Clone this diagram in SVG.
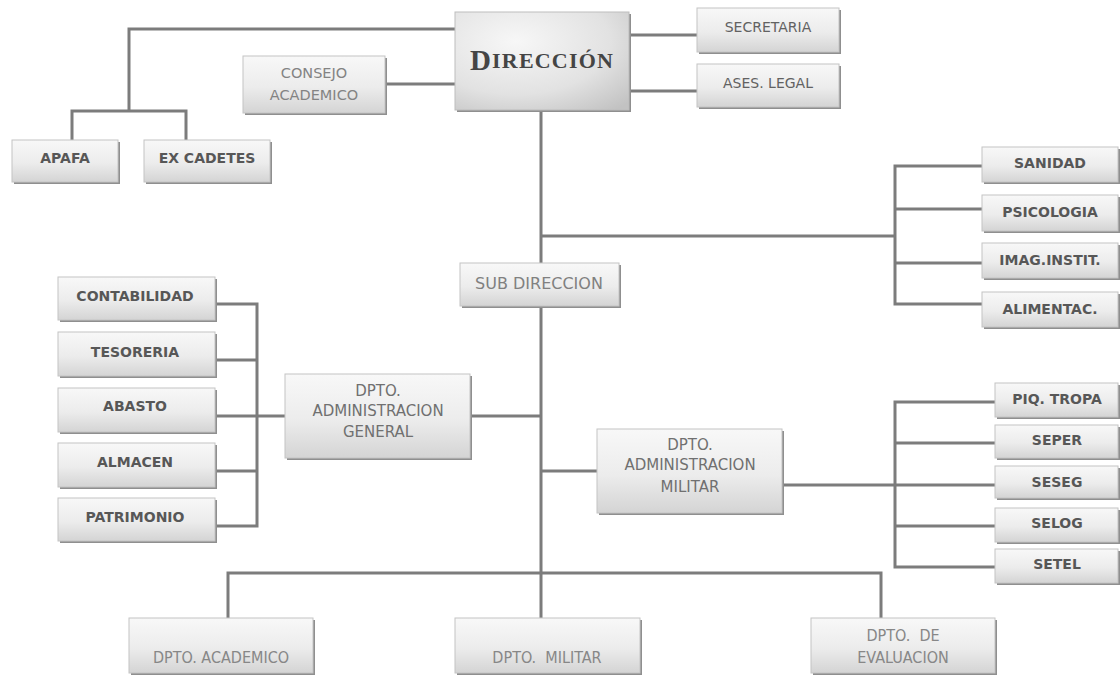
<svg xmlns="http://www.w3.org/2000/svg" width="1120" height="675" viewBox="0 0 1120 675">
<defs>
<linearGradient id="gb" x1="0" y1="0" x2="0" y2="1">
<stop offset="0" stop-color="#f8f8f8"/><stop offset="0.55" stop-color="#ececec"/><stop offset="1" stop-color="#d4d4d4"/>
</linearGradient>
<radialGradient id="gd" cx="0.35" cy="0.3" r="0.9">
<stop offset="0" stop-color="#f7f7f7"/><stop offset="0.6" stop-color="#e2e2e2"/><stop offset="1" stop-color="#c2c2c2"/>
</radialGradient>
<style>
.sh{fill:#8f8f8f}
.bx{fill:url(#gb);stroke:#c4c4c4;stroke-width:1}
.bd{fill:url(#gd);stroke:#bdbdbd;stroke-width:1}
.c{fill:none;stroke:#7c7c7c;stroke-width:3}
text{text-anchor:middle;dominant-baseline:central;font-family:"DejaVu Sans","Liberation Sans",sans-serif}
.b{font-weight:bold;font-size:14px;fill:#575757}
.r{font-size:14px;fill:#626262}
.l{font-size:14.5px;fill:#838383}
.m{font-size:15px;fill:#707070}
.s{font-size:16px;fill:#808080}
.k{font-family:"DejaVu Sans Condensed","DejaVu Sans",sans-serif;font-stretch:condensed;font-size:16px;fill:#878787}
.t{font-family:"Liberation Serif","DejaVu Serif",serif;font-weight:bold;fill:#454545}
</style>
</defs>
<g id="connectors">
<path class="c" d="M455 29H129V111M72 140V111H186V140"/>
<path class="c" d="M385 84H455"/>
<path class="c" d="M629 35H697M629 91H697"/>
<path class="c" d="M541 110V573"/>
<path class="c" d="M541 236H895M982 166H895V304H982M895 209H982M895 263H982"/>
<path class="c" d="M541 416H470M285 416H257M215 304H257V526H215M215 360H257M215 416H257M215 471H257"/>
<path class="c" d="M541 471H597M782 485H895M995 402H895V567H995M895 443H995M895 485H995M895 526H995"/>
<path class="c" d="M228 618V573H881V618M541 573V618"/>
</g>
<g id="direccion"><rect class="sh" x="457" y="14" width="174" height="98"/><rect class="bd" x="455" y="12" width="174" height="98"/>
<text class="t" x="542" y="60" letter-spacing="1.2"><tspan font-size="29">D</tspan><tspan font-size="22">IRECCIÓN</tspan></text></g>
<g id="consejo"><rect class="sh" x="245" y="58" width="142" height="57"/><rect class="bx" x="243" y="56" width="142" height="57"/>
<text class="l" x="314" y="73">CONSEJO</text><text class="l" x="314" y="95">ACADEMICO</text></g>
<g id="secretaria"><rect class="sh" x="699" y="10" width="142" height="44"/><rect class="bx" x="697" y="8" width="142" height="44"/><text class="r" x="768" y="27">SECRETARIA</text></g>
<g id="ases"><rect class="sh" x="699" y="66" width="142" height="43"/><rect class="bx" x="697" y="64" width="142" height="43"/><text class="r" x="768" y="83">ASES. LEGAL</text></g>
<g id="apafa"><rect class="sh" x="14" y="142" width="106" height="42"/><rect class="bx" x="12" y="140" width="106" height="42"/><text class="b" x="65" y="158">APAFA</text></g>
<g id="excadetes"><rect class="sh" x="146" y="142" width="126" height="42"/><rect class="bx" x="144" y="140" width="126" height="42"/><text class="b" x="207" y="158">EX CADETES</text></g>
<g id="sanidad"><rect class="sh" x="984" y="149" width="136" height="35"/><rect class="bx" x="982" y="147" width="136" height="35"/><text class="b" x="1050" y="163">SANIDAD</text></g>
<g id="psicologia"><rect class="sh" x="984" y="197" width="136" height="36"/><rect class="bx" x="982" y="195" width="136" height="36"/><text class="b" x="1050" y="212">PSICOLOGIA</text></g>
<g id="imag"><rect class="sh" x="984" y="245" width="136" height="35"/><rect class="bx" x="982" y="243" width="136" height="35"/><text class="b" x="1050" y="260">IMAG.INSTIT.</text></g>
<g id="alimentac"><rect class="sh" x="984" y="294" width="136" height="35"/><rect class="bx" x="982" y="292" width="136" height="35"/><text class="b" x="1050" y="309">ALIMENTAC.</text></g>
<g id="subdireccion"><rect class="sh" x="462" y="265" width="159" height="43"/><rect class="bx" x="460" y="263" width="159" height="43"/><text class="s" x="539" y="283">SUB DIRECCION</text></g>
<g id="contabilidad"><rect class="sh" x="60" y="279" width="157" height="43"/><rect class="bx" x="58" y="277" width="157" height="43"/><text class="b" x="135" y="296">CONTABILIDAD</text></g>
<g id="tesoreria"><rect class="sh" x="60" y="334" width="157" height="44"/><rect class="bx" x="58" y="332" width="157" height="44"/><text class="b" x="135" y="352">TESORERIA</text></g>
<g id="abasto"><rect class="sh" x="60" y="390" width="157" height="44"/><rect class="bx" x="58" y="388" width="157" height="44"/><text class="b" x="135" y="406">ABASTO</text></g>
<g id="almacen"><rect class="sh" x="60" y="445" width="157" height="44"/><rect class="bx" x="58" y="443" width="157" height="44"/><text class="b" x="135" y="462">ALMACEN</text></g>
<g id="patrimonio"><rect class="sh" x="60" y="500" width="157" height="43"/><rect class="bx" x="58" y="498" width="157" height="43"/><text class="b" x="135" y="517">PATRIMONIO</text></g>
<g id="admgeneral"><rect class="sh" x="287" y="376" width="185" height="84"/><rect class="bx" x="285" y="374" width="185" height="84"/>
<text class="m" x="378" y="391">DPTO.</text><text class="m" x="378" y="411">ADMINISTRACION</text><text class="m" x="378" y="432">GENERAL</text></g>
<g id="admmilitar"><rect class="sh" x="599" y="431" width="185" height="84"/><rect class="bx" x="597" y="429" width="185" height="84"/>
<text class="m" x="690" y="445">DPTO.</text><text class="m" x="690" y="465">ADMINISTRACION</text><text class="m" x="690" y="487">MILITAR</text></g>
<g id="piqtropa"><rect class="sh" x="997" y="385" width="123" height="34"/><rect class="bx" x="995" y="383" width="123" height="34"/><text class="b" x="1057" y="399">PIQ. TROPA</text></g>
<g id="seper"><rect class="sh" x="997" y="427" width="123" height="33"/><rect class="bx" x="995" y="425" width="123" height="33"/><text class="b" x="1057" y="440">SEPER</text></g>
<g id="seseg"><rect class="sh" x="997" y="468" width="123" height="32"/><rect class="bx" x="995" y="466" width="123" height="32"/><text class="b" x="1057" y="482">SESEG</text></g>
<g id="selog"><rect class="sh" x="997" y="510" width="123" height="34"/><rect class="bx" x="995" y="508" width="123" height="34"/><text class="b" x="1057" y="523">SELOG</text></g>
<g id="setel"><rect class="sh" x="997" y="551" width="123" height="34"/><rect class="bx" x="995" y="549" width="123" height="34"/><text class="b" x="1057" y="564">SETEL</text></g>
<g id="academico"><rect class="sh" x="131" y="620" width="184" height="55"/><rect class="bx" x="129" y="618" width="184" height="55"/><text class="k" x="221" y="657">DPTO. ACADEMICO</text></g>
<g id="militar"><rect class="sh" x="457" y="620" width="185" height="55"/><rect class="bx" x="455" y="618" width="185" height="55"/><text class="k" x="547" y="657" xml:space="preserve">DPTO.  MILITAR</text></g>
<g id="evaluacion"><rect class="sh" x="813" y="620" width="184" height="55"/><rect class="bx" x="811" y="618" width="184" height="55"/>
<text class="k" x="903" y="635" xml:space="preserve">DPTO.  DE</text><text class="k" x="903" y="657">EVALUACION</text></g>
</svg>
